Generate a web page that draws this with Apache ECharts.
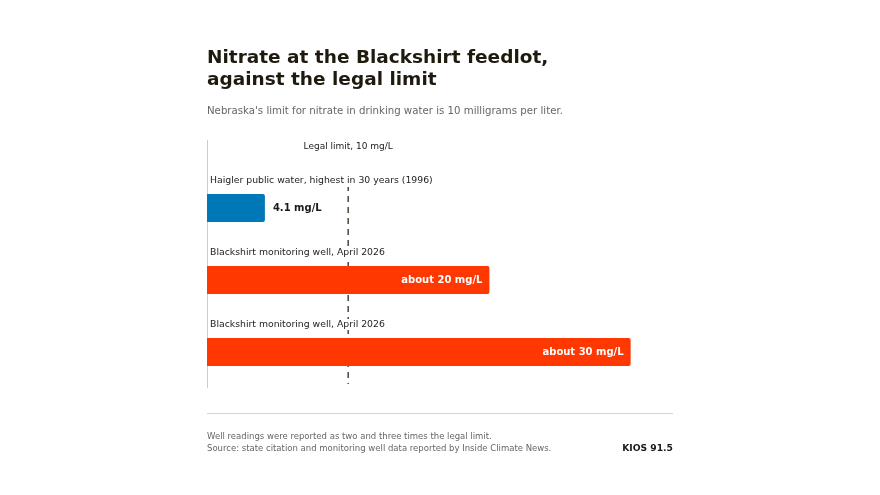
<!DOCTYPE html>
<html>
<head>
<meta charset="utf-8">
<script src="https://cdn.jsdelivr.net/npm/echarts@6/dist/echarts.min.js"></script>
<style>
  html, body { margin: 0; padding: 0; background: #fff; }
  #chart { width: 880px; height: 495px; }
</style>
</head>
<body>
<div id="chart"></div>
<script>
var categories = [
    'Haigler public water, highest in 30 years (1996)',
    'Blackshirt monitoring well, April 2026',
    'Blackshirt monitoring well, April 2026'
];
var values = [4.1, 20, 30];
var valueLabels = ['4.1 mg/L', 'about 20 mg/L', 'about 30 mg/L'];
var barColors = ['#0077b6', '#ff3700', '#ff3700'];
var limitValue = 10;
var limitLabel = 'Legal limit, 10 mg/L';
var xMax = 33;

var FONT = 'DejaVu Sans';
var LEFT = 207, RIGHT = 673, TOP = 172, BOTTOM = 388;

function buildData() {
    var out = [];
    for (var i = 0; i < values.length; i++) {
        var inside = values[i] > 10;
        out.push({
            value: values[i],
            itemStyle: { color: barColors[i] },
            label: {
                show: true,
                position: inside ? 'insideRight' : 'right',
                distance: inside ? 7 : 8,
                color: inside ? '#ffffff' : '#1a1a1a',
                fontWeight: 'bold',
                fontSize: 10,
                fontFamily: FONT,
                formatter: valueLabels[i]
            }
        });
    }
    return out;
}

var chart = echarts.init(document.getElementById('chart'));
var option = {
    animation: false,
    backgroundColor: '#ffffff',
    textStyle: { fontFamily: FONT },
    title: [{
        text: 'Nitrate at the Blackshirt feedlot,\nagainst the legal limit',
        left: LEFT - 5, top: 42, padding: 5,
        textStyle: { fontFamily: FONT, fontSize: 18.5, fontWeight: 'bold', color: '#1f1a0e', lineHeight: 22 }
    }, {
        text: "Nebraska's limit for nitrate in drinking water is 10 milligrams per liter.",
        left: LEFT - 5, top: 101, padding: 5,
        textStyle: { fontFamily: FONT, fontSize: 10.2, fontWeight: 'normal', color: '#666666' }
    }],
    grid: { left: LEFT, right: 880 - RIGHT, top: TOP, bottom: 495 - BOTTOM },
    xAxis: {
        type: 'value', min: 0, max: xMax,
        show: false
    },
    yAxis: {
        type: 'category', inverse: true, data: categories,
        z: 5,
        axisLine: { show: false },
        axisTick: { show: false },
        axisLabel: {
            inside: true, margin: 2, align: 'left', verticalAlign: 'bottom',
            padding: [0, 0, 22, 0],
            formatter: function (v) { return '{a|' + v + '}'; },
            rich: {
                a: {
                    fontFamily: FONT, fontSize: 9.3, color: '#222222',
                    backgroundColor: '#ffffff', padding: [1, 1, 1, 1]
                }
            }
        }
    },
    series: [{
        type: 'bar',
        barWidth: 28,
        data: buildData(),
        itemStyle: { borderRadius: [0, 2, 2, 0] },
        z: 3
    }]
};
chart.setOption(option);

var limitX = chart.convertToPixel({ xAxisIndex: 0 }, limitValue);
chart.setOption({
    graphic: [{
        type: 'line', z: 0,
        shape: { x1: LEFT + 0.5, y1: 140, x2: LEFT + 0.5, y2: BOTTOM },
        style: { stroke: '#cccccc', lineWidth: 1 }
    }, {
        type: 'line', z: 0,
        shape: { x1: limitX, y1: 187, x2: limitX, y2: 384 },
        style: { stroke: '#555048', lineWidth: 1.6, lineDash: [6, 5], lineDashOffset: 2 }
    }, {
        type: 'text', z: 10,
        x: limitX, y: 146.5,
        style: { text: limitLabel, fill: '#222222', font: '9px "DejaVu Sans"', align: 'center', verticalAlign: 'middle' }
    }, {
        type: 'line',
        shape: { x1: LEFT, y1: 413.5, x2: RIGHT, y2: 413.5 },
        style: { stroke: '#d4d4d4', lineWidth: 1 }
    }, {
        type: 'text',
        x: LEFT, y: 436.5,
        style: { text: 'Well readings were reported as two and three times the legal limit.', fill: '#666666', font: '8.5px "DejaVu Sans"', verticalAlign: 'middle' }
    }, {
        type: 'text',
        x: LEFT, y: 448.5,
        style: { text: 'Source: state citation and monitoring well data reported by Inside Climate News.', fill: '#666666', font: '8.5px "DejaVu Sans"', verticalAlign: 'middle' }
    }, {
        type: 'text',
        x: RIGHT, y: 448.5,
        style: { text: 'KIOS 91.5', fill: '#1a1a1a', font: 'bold 9.2px "DejaVu Sans"', align: 'right', verticalAlign: 'middle' }
    }]
});
</script>
</body>
</html>
